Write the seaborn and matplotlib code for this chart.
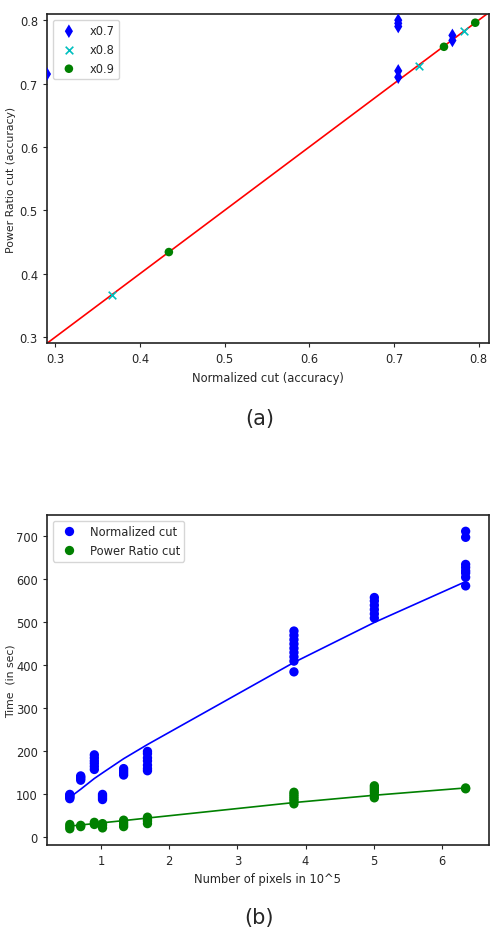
import matplotlib
matplotlib.use("Agg")
import matplotlib.pyplot as plt
import seaborn as sns
import pandas as pd

# (a) accuracy: Normalized cut vs Power Ratio cut, per scale factor
x07_norm = [0.29, 0.705, 0.705, 0.705, 0.705, 0.705, 0.769, 0.769]
x07_power = [0.715, 0.800, 0.795, 0.790, 0.720, 0.710, 0.776, 0.768]
x08_norm = [0.367, 0.729, 0.783]
x08_power = [0.367, 0.728, 0.783]
x09_norm = [0.434, 0.759, 0.796]
x09_power = [0.434, 0.758, 0.796]

# (b) running time vs number of pixels (in 10^5)
pixels = [0.54, 0.70, 0.90, 1.02, 1.33, 1.68, 3.83, 5.01, 6.35]
ncut_times = [
    [90, 93, 95, 98, 100],
    [133, 137, 140, 143],
    [158, 165, 172, 178, 185, 192],
    [88, 92, 96, 100],
    [145, 150, 155, 160],
    [155, 160, 168, 178, 185, 195, 200],
    [385, 410, 420, 430, 440, 450, 460, 470, 480],
    [510, 520, 530, 540, 550, 558],
    [585, 605, 615, 620, 628, 635, 698, 712],
]
prcut_times = [
    [20, 25, 30],
    [25, 28],
    [30, 35],
    [22, 28, 32],
    [25, 30, 35, 40],
    [32, 38, 42, 47],
    [78, 85, 90, 95, 100, 105],
    [92, 98, 105, 110, 115, 120],
    [113, 115],
]
ncut_fit = [93, 112, 137, 150, 183, 216, 407, 500, 595]
prcut_fit = [26, 29, 32, 34, 39, 45, 81, 98, 115]

sns.set_style("ticks")
plt.rcParams["font.family"] = ["DejaVu Sans"]
plt.rcParams["axes.linewidth"] = 1.2
plt.rcParams["axes.edgecolor"] = "#222222"
fs = 8.3

fig = plt.figure(figsize=(4.92, 9.28), dpi=100)
ax1 = fig.add_axes([0.0955, 0.629, 0.898, 0.355])
ax2 = fig.add_axes([0.0955, 0.0887, 0.898, 0.3553])

# ---- panel (a)
ax1.axline((0.3, 0.3), (0.8, 0.8), color="red", lw=1.2, zorder=1)
sns.scatterplot(x=x07_norm, y=x07_power, marker="d", color="blue", s=48,
                edgecolor="none", label="x0.7", ax=ax1, zorder=3)
sns.scatterplot(x=x08_norm, y=x08_power, marker="x", color="c", s=30,
                linewidth=1.2, label="x0.8", ax=ax1, zorder=3)
sns.scatterplot(x=x09_norm, y=x09_power, marker="o", color="green", s=38,
                edgecolor="none", label="x0.9", ax=ax1, zorder=3)
ax1.set_xlim(0.29, 0.812)
ax1.set_ylim(0.29, 0.81)
ax1.set_xticks([0.3, 0.4, 0.5, 0.6, 0.7, 0.8])
ax1.set_yticks([0.3, 0.4, 0.5, 0.6, 0.7, 0.8])
ax1.set_xlabel("Normalized cut (accuracy)", fontsize=fs)
ax1.set_ylabel("Power Ratio cut (accuracy)", fontsize=7.8)
ax1.yaxis.set_label_coords(-0.071, 0.5)
ax1.tick_params(labelsize=fs, length=3)
ax1.legend(loc="upper left", fontsize=fs, scatterpoints=1, frameon=True)
fig.text(0.527, 0.549, "(a)", ha="center", va="center", fontsize=15)

# ---- panel (b)
rows = []
for px, nt, pt in zip(pixels, ncut_times, prcut_times):
    for v in nt:
        rows.append({"pixels": px, "time": v, "method": "Normalized cut"})
    for v in pt:
        rows.append({"pixels": px, "time": v, "method": "Power Ratio cut"})
df = pd.DataFrame(rows)

sns.scatterplot(data=df, x="pixels", y="time", hue="method",
                palette={"Normalized cut": "blue", "Power Ratio cut": "green"},
                s=45, edgecolor="none", ax=ax2, zorder=3)
sns.lineplot(x=pixels, y=ncut_fit, color="blue", lw=1.2, ax=ax2, zorder=2)
sns.lineplot(x=pixels, y=prcut_fit, color="green", lw=1.2, ax=ax2, zorder=2)
ax2.set_xlim(0.205, 6.69)
ax2.set_ylim(-17, 750)
ax2.set_xticks([1, 2, 3, 4, 5, 6])
ax2.set_yticks([0, 100, 200, 300, 400, 500, 600, 700])
ax2.set_xlabel("Number of pixels in 10^5", fontsize=fs)
ax2.set_ylabel("Time  (in sec)", fontsize=7.8)
ax2.yaxis.set_label_coords(-0.071, 0.5)
ax2.tick_params(labelsize=fs, length=3)
ax2.legend(loc="upper left", fontsize=fs, scatterpoints=1, title=None)
fig.text(0.527, 0.011, "(b)", ha="center", va="center", fontsize=15)

plt.savefig("out.png", dpi=100)
plt.close()
